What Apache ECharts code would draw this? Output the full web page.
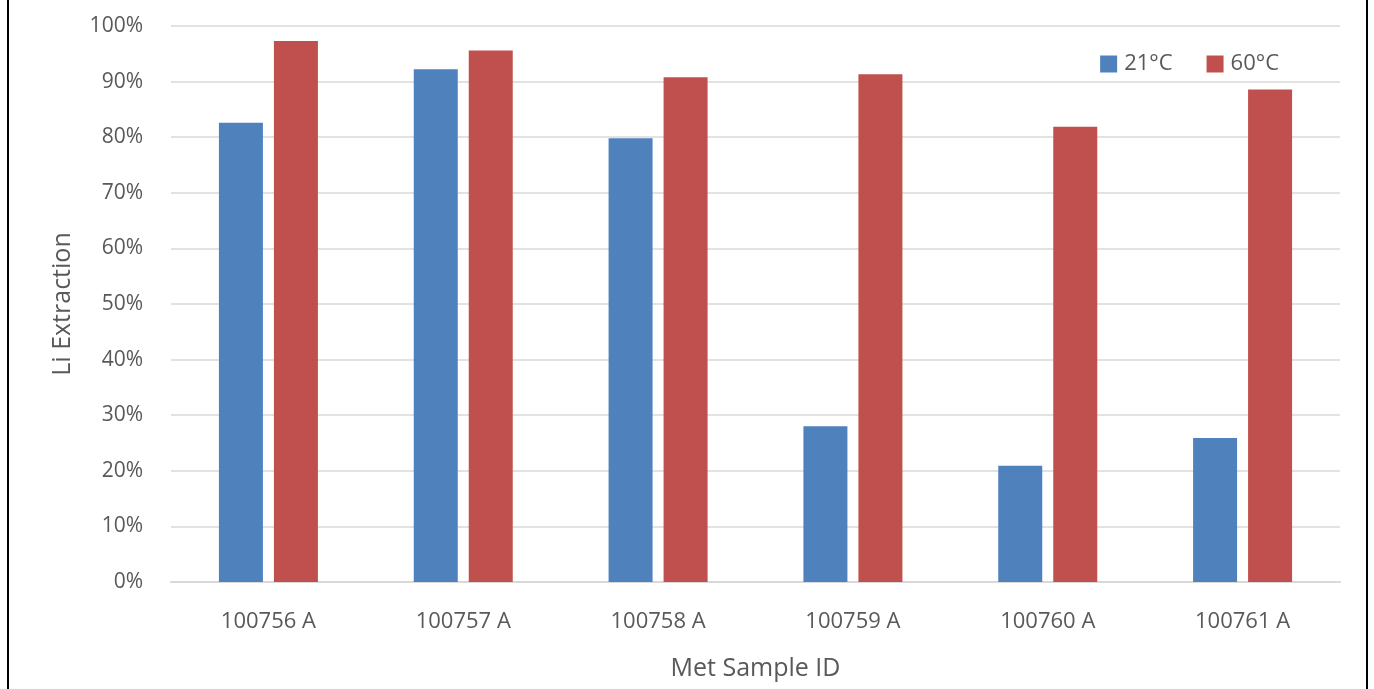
<!DOCTYPE html>
<html>
<head>
<meta charset="utf-8">
<script src="https://cdn.jsdelivr.net/npm/echarts@6/dist/echarts.min.js"></script>
<style>html,body{margin:0;padding:0;background:#fff}#c{width:1374px;height:689px}</style>
</head>
<body>
<div id="c"></div>
<script>
const categories = ['100756 A', '100757 A', '100758 A', '100759 A', '100760 A', '100761 A'];
const seriesNames = ['21°C', '60°C'];
const values21 = [0.826, 0.922, 0.798, 0.280, 0.209, 0.259];
const values60 = [0.973, 0.956, 0.908, 0.913, 0.819, 0.886];
const yTicks = [0, 0.1, 0.2, 0.3, 0.4, 0.5, 0.6, 0.7, 0.8, 0.9, 1.0];

const chart = echarts.init(document.getElementById('c'));
const font = '"Open Sans", "Noto Sans", sans-serif';
chart.setOption({
  animation: false,
  textStyle: { fontFamily: font },
  grid: { left: 171, right: 34, top: 26, bottom: 107, containLabel: false, outerBoundsMode: 'none' },
  legend: {
    top: 48, right: 90,
    itemWidth: 17, itemHeight: 17, itemGap: 34,
    icon: 'rect',
    textStyle: { fontSize: 22, color: '#595959', fontFamily: font, padding: [0, 0, 0, 2] },
    data: seriesNames
  },
  xAxis: {
    type: 'category',
    data: categories,
    name: 'Met Sample ID',
    nameLocation: 'middle',
    nameGap: 74,
    nameTextStyle: { fontSize: 25, color: '#595959', fontFamily: font },
    axisLine: { lineStyle: { color: '#d9d9d9', width: 2 } },
    axisTick: { show: false },
    axisLabel: { fontSize: 22, color: '#595959', margin: 29, fontFamily: font }
  },
  yAxis: {
    type: 'value',
    min: 0, max: 1, interval: 0.1,
    name: 'Li Extraction',
    nameLocation: 'middle',
    nameGap: 96,
    nameTextStyle: { fontSize: 25, color: '#595959', fontFamily: font },
    axisLine: { show: false },
    axisTick: { show: false },
    splitLine: { lineStyle: { color: '#d9d9d9', width: 1.5 } },
    axisLabel: {
      fontSize: 21, color: '#595959', margin: 28, fontFamily: font,
      formatter: v => Math.round(v * 100) + '%'
    }
  },
  series: [
    { name: seriesNames[0], type: 'bar', data: values21, barWidth: 44, barGap: '25%', itemStyle: { color: '#4f81bd' } },
    { name: seriesNames[1], type: 'bar', data: values60, barWidth: 44, itemStyle: { color: '#c0504d' } }
  ],
  graphic: [
    { type: 'line', shape: { x1: 8, y1: 0, x2: 8, y2: 689 }, style: { stroke: '#000', lineWidth: 2 } },
    { type: 'line', shape: { x1: 1367, y1: 0, x2: 1367, y2: 689 }, style: { stroke: '#000', lineWidth: 2 } }
  ]
});
</script>
</body>
</html>
